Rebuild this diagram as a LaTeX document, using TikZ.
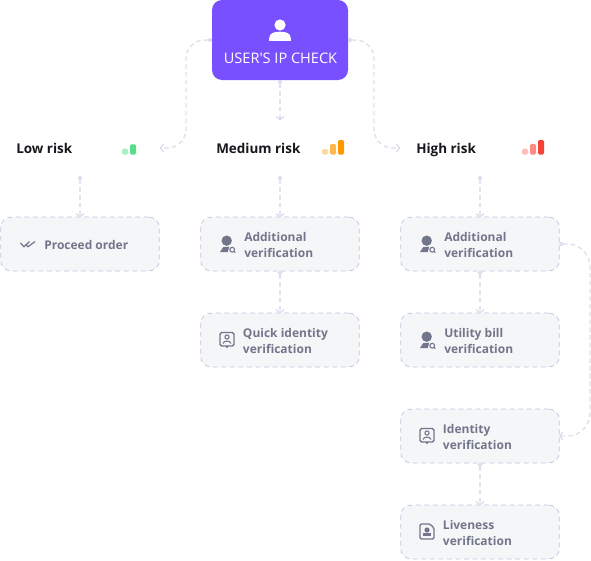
\documentclass[tikz,border=0pt]{standalone}
\usepackage{fontspec}
\setmainfont{Open Sans}
\newfontfamily\semi{Open Sans}
\usetikzlibrary{arrows.meta}
\definecolor{ipviolet}{HTML}{7950FF}
\definecolor{boxfill}{HTML}{F5F6F8}
\definecolor{boxedge}{HTML}{BEC6DE}
\definecolor{connline}{HTML}{E0E3EE}
\definecolor{connhead}{HTML}{C4CBE0}
\definecolor{slate}{HTML}{72768A}
\definecolor{ink}{HTML}{17171C}
\tikzset{
  x=0.75pt,y=-0.75pt,
  ipbox/.style={fill=ipviolet,rounded corners=7.5pt,minimum width=102pt,minimum height=60pt,inner sep=0pt,outer sep=0pt},
  stepbox/.style={draw=boxedge,fill=boxfill,line width=0.55pt,dash pattern=on 3.6pt off 2.8pt,rounded corners=8pt,minimum width=119pt,minimum height=40.5pt,inner sep=0pt,outer sep=0pt},
  risklabel/.style={anchor=base west,inner sep=0pt,text=ink,font=\fontsize{10.1}{12}\selectfont\bfseries},
  steplabel/.style={anchor=west,inner sep=0pt,align=left,text=slate,font=\fontsize{9}{12}\selectfont\bfseries},
  conn/.style={draw=connline,line width=1.1pt,dash pattern=on 3.4pt off 2.4pt,
    arrows={{Circle[color=connhead,fill=white,length=3pt,width=3pt,line width=0.5pt]}-{Straight Barb[length=2.2pt,width=6pt,line width=0.55pt,color=connhead]}}},
  pics/personq/.style={code={
    \fill[slate] (0,0) circle[radius=5.2];
    \fill[slate] (-6.8,11.5) -- (-3.5,6.4) -- (2.5,6) -- (1,11.5) -- cycle;
    \draw[slate,line width=0.8pt] (5.5,9) circle[radius=2.4] (7.2,10.7) -- (8.6,12);
  }},
  pics/idcard/.style={code={
    \draw[slate,line width=1pt,rounded corners=1.2pt] (-7,-7) rectangle (7,6.5);
    \draw[slate,line width=0.8pt] (-1,6.5) -- (0,8) -- (1,6.5);
    \draw[slate,line width=0.8pt] (0,-2.5) circle[radius=2.1];
    \draw[slate,line width=0.8pt] (-4,4) .. controls (-3.5,0.8) and (3.5,0.8) .. (4,4);
  }},
  pics/livedoc/.style={code={
    \draw[slate,line width=1pt,rounded corners=1pt] (-7,-7.5) -- (3,-7.5) -- (7,-3.5) -- (7,7.5) -- (-7,7.5) -- cycle;
    \fill[slate] (0,-1.5) circle[radius=2.6];
    \fill[slate] (-4,4.5) rectangle (4,1.8);
  }},
  pics/doublecheck/.style={code={
    \draw[slate,line width=0.9pt] (-7.5,-1.5) -- (-4,2.3) -- (1.5,-3);
    \draw[slate,line width=0.9pt] (-2.5,-0.5) -- (0,2.3) -- (7,-3);
  }},
}
\begin{document}
\begin{tikzpicture}
\useasboundingbox[fill=white] (0,0) rectangle (591,560);

% source
\node[ipbox] (ip) at (280,40) {};
\fill[white] (280,25) circle[radius=5.6];
\fill[white] (269.2,41) -- (269.2,38.5) .. controls (269.2,33) and (274,31.7) .. (280,31.7) .. controls (286,31.7) and (290.8,33) .. (290.8,38.5) -- (290.8,41) -- cycle;
\node[inner sep=0pt,text=white,font=\fontsize{10.9}{12}\selectfont\semi] (iptext) at (280.5,58) {USER'S IP CHECK};

% risk headings
\node[risklabel] (low) at (16,153) {Low risk};
\node[risklabel] (med) at (216,153) {Medium risk};
\node[risklabel] (high) at (416,153) {High risk};

% risk bars
\foreach \x/\top/\c in {122/148.7/A8EFC2,130/144.3/55DD88,322/149/FFD9A0,330/144/FFB84D,338/140/FF9800,522/148.7/FFBDB8,530/144/FF8A80,538/140/F44336}{
  \definecolor{barcol}{HTML}{\c}
  \fill[barcol,rounded corners=1pt] (\x,\top) rectangle (\x+6,154.5);
}

% boxes
\node[stepbox] (b1) at (80,244) {};
\node[stepbox] (m1) at (280,244) {};
\node[stepbox] (m2) at (280,340) {};
\node[stepbox] (h1) at (480,244) {};
\node[stepbox] (h2) at (480,340) {};
\node[stepbox] (h3) at (480,436) {};
\node[stepbox] (h4) at (480,532) {};

% box labels
\node[steplabel] (b1t) at (44,245) {Proceed order};
\node[steplabel] (m1t) at (244,245) {Additional\\verification};
\node[steplabel] (m2t) at (242.7,341) {Quick identity\\verification};
\node[steplabel] (h1t) at (444,245) {Additional\\verification};
\node[steplabel] (h2t) at (444,341) {Utility bill\\verification};
\node[steplabel] (h3t) at (442.7,437) {Identity\\verification};
\node[steplabel] (h4t) at (442.7,533) {Liveness\\verification};

% icons
\pic at (28,244.5) {doublecheck};
\pic at (226.7,240.7) {personq};
\pic at (227,339.5) {idcard};
\pic at (426.7,240.7) {personq};
\pic at (426.7,336.7) {personq};
\pic at (427,435.5) {idcard};
\pic at (427,531.5) {livedoc};

% connector ends
\coordinate (lowin) at (160,148);
\coordinate (lowturn) at (186,148);
\coordinate (highin) at (400,148);
\coordinate (highturn) at (374,148);
\coordinate (medin) at (280,120);
\coordinate (lowout) at (80,176);
\coordinate (medout) at (280,176);
\coordinate (highout) at (480,176);
\coordinate (sideA) at (590,244);
\coordinate (sideB) at (590,436);

% connectors
\draw[conn,rounded corners=14pt] (ip.west) -| (lowturn) -- (lowin);
\draw[conn] (ip.south) -- (medin);
\draw[conn,rounded corners=14pt] (ip.east) -| (highturn) -- (highin);
\draw[conn] (lowout) -- (b1.north);
\draw[conn] (medout) -- (m1.north);
\draw[conn] (highout) -- (h1.north);
\draw[conn] (m1.south) -- (m2.north);
\draw[conn] (h1.south) -- (h2.north);
\draw[conn] (h3.south) -- (h4.north);
\draw[conn,rounded corners=17pt] (h1.east) -- (sideA) -- (sideB) -- (h3.east);
\end{tikzpicture}
\end{document}
